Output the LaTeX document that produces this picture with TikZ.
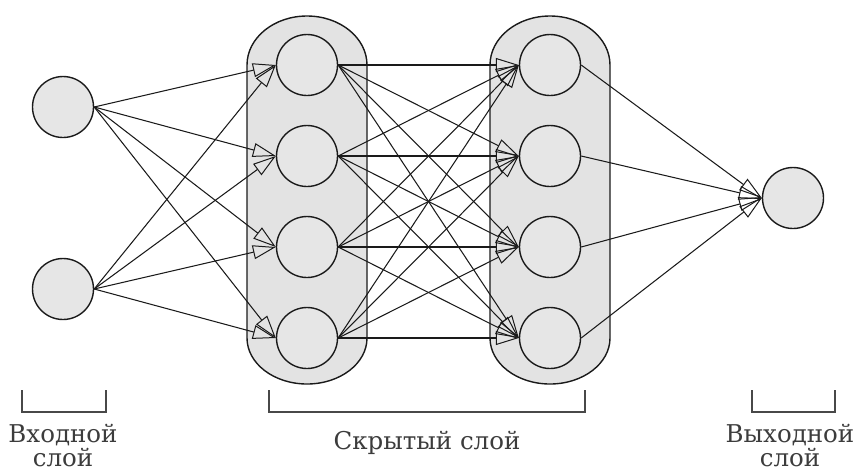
\documentclass[tikz,border=0pt]{standalone}
\usepackage{fontspec}
\setmainfont{DejaVu Serif}
\usetikzlibrary{arrows.meta}
\definecolor{cellfill}{HTML}{E6E6E6}
\definecolor{layerfill}{HTML}{E3E3E3}
\definecolor{inkline}{HTML}{1A1A1A}
\tikzset{
  neuron/.style={circle, draw=inkline, fill=cellfill, line width=1.4pt,
                 minimum size=61pt, inner sep=0pt},
  conn/.style={draw=inkline, line width=1.05pt,
               -{Triangle[open, length=23pt, width=14pt, line width=1pt]}},
  layerbox/.style={draw=inkline, fill=layerfill, line width=1.4pt},
  brace/.style={draw=inkline!80, line width=1.3pt},
  caption/.style={align=center, text=inkline!85,
                  font=\fontsize{24.5}{24}\selectfont}
}
\begin{document}
\begin{tikzpicture}[x=1pt, y=-1pt]
\useasboundingbox (0,0) rectangle (854,475);

% hidden layer envelopes
\foreach \cx in {307,550}{
  \path[layerbox] (\cx-60,65) -- (\cx-60,338)
    arc[start angle=180, end angle=0, x radius=60, y radius=46]
    -- (\cx+60,65)
    arc[start angle=0, end angle=-180, x radius=60, y radius=49] -- cycle;
}

% neurons
\node[neuron] (in1) at (63,107) {};
\node[neuron] (in2) at (63,289) {};
\foreach \j/\y in {1/65,2/156,3/247,4/338}{
  \node[neuron] (ha\j) at (307,\y) {};
  \node[neuron] (hb\j) at (550,\y) {};
}
\node[neuron] (out) at (793,198) {};

% connections
\foreach \i in {1,2}
  \foreach \j in {1,...,4}
    \draw[conn] (in\i.east) -- (ha\j.west);
\foreach \i in {1,...,4}
  \foreach \j in {1,...,4}
    \draw[conn] (ha\i.east) -- (hb\j.west);
\foreach \i in {1,...,4}
  \draw[conn] (hb\i.east) -- (out.west);

% layer brackets
\draw[brace] (22,390) -- (22,412) -- (106,412) -- (106,390);
\draw[brace] (269,390) -- (269,412) -- (585,412) -- (585,390);
\draw[brace] (752,390) -- (752,412) -- (835,412) -- (835,390);

% layer captions
\node[caption] (capin) at (63,446) {Входной\\слой};
\node[caption] (caphid) at (427,443) {Скрытый слой};
\node[caption] (capout) at (790,446) {Выходной\\слой};
\end{tikzpicture}
\end{document}
